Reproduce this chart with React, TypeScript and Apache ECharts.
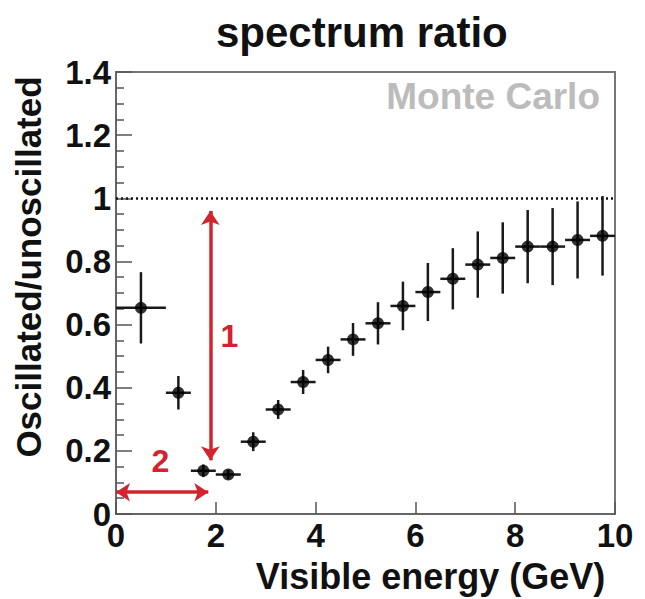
import React, { useEffect, useRef } from "react";
import * as echarts from "echarts";

// ---- data ----
const binCenters = [0.5, 1.25, 1.75, 2.25, 2.75, 3.25, 3.75, 4.25, 4.75, 5.25, 5.75, 6.25, 6.75, 7.25, 7.75, 8.25, 8.75, 9.25, 9.75];
const binHalfWidths = [0.5, 0.25, 0.25, 0.25, 0.25, 0.25, 0.25, 0.25, 0.25, 0.25, 0.25, 0.25, 0.25, 0.25, 0.25, 0.25, 0.25, 0.25, 0.25];
const ratio = [0.653, 0.384, 0.137, 0.125, 0.229, 0.331, 0.418, 0.488, 0.553, 0.604, 0.659, 0.703, 0.745, 0.79, 0.811, 0.847, 0.847, 0.868, 0.881];
const ratioErr = [0.113, 0.053, 0.02, 0.015, 0.03, 0.03, 0.038, 0.042, 0.052, 0.067, 0.077, 0.092, 0.097, 0.105, 0.113, 0.116, 0.122, 0.122, 0.126];

const referenceLevel = 1;
const arrow1 = { x: 1.89, yFrom: 0.96, yTo: 0.17, label: "1", labelX: 2.27, labelY: 0.565 };
const arrow2 = { y: 0.069, xFrom: 0, xTo: 1.85, label: "2", labelX: 0.89, labelY: 0.167 };

const xTicks = { min: 0, max: 10, interval: 2 };
const yTicks = { min: 0, max: 1.4, interval: 0.2 };

const TITLE = "spectrum ratio";
const X_NAME = "Visible energy (GeV)";
const Y_NAME = "Oscillated/unoscillated";
const TAG = "Monte Carlo";

const FONT = "'Liberation Sans', Arial, Helvetica, sans-serif";
const RED = "#d2232e";

export default function App() {
  const ref = useRef<HTMLDivElement>(null);

  useEffect(() => {
    if (!ref.current) return;
    const chart = echarts.init(ref.current, undefined, { renderer: "svg" });

    const points = binCenters.map((x, i) => [
      x,
      ratio[i],
      x - binHalfWidths[i],
      x + binHalfWidths[i],
      ratio[i] - ratioErr[i],
      ratio[i] + ratioErr[i],
    ]);

    const option: any = {
      animation: false,
      backgroundColor: "#ffffff",
      title: {
        text: TITLE,
        left: 211,
        top: 6,
        textStyle: { fontFamily: FONT, fontWeight: "bold", fontSize: 42, color: "#111" },
      },
      grid: {
        left: 116,
        right: 30,
        top: 72,
        bottom: 82,
        show: true,
        borderColor: "#777",
        borderWidth: 2,
        backgroundColor: "transparent",
      },
      xAxis: {
        type: "value",
        min: xTicks.min,
        max: xTicks.max,
        interval: xTicks.interval,
        name: X_NAME,
        nameLocation: "middle",
        nameGap: 44,
        nameTextStyle: {
          fontFamily: FONT,
          fontWeight: "bold",
          fontSize: 36,
          color: "#111",
          padding: [0, 0, 0, 130],
        },
        axisLine: { show: true, lineStyle: { color: "#666", width: 2 } },
        axisTick: { show: true, inside: true, length: 12, lineStyle: { color: "#555", width: 1.5 } },
        axisLabel: {
          fontFamily: FONT,
          fontWeight: "bold",
          fontSize: 33,
          color: "#111",
          margin: 5,
        },
        splitLine: { show: false },
      },
      yAxis: {
        type: "value",
        min: yTicks.min,
        max: yTicks.max,
        interval: yTicks.interval,
        name: Y_NAME,
        nameLocation: "middle",
        nameGap: 70,
        nameTextStyle: {
          fontFamily: FONT,
          fontWeight: "bold",
          fontSize: 35,
          color: "#111",
          padding: [0, 0, 0, 52],
        },
        axisLine: { show: true, lineStyle: { color: "#666", width: 2 } },
        axisTick: { show: true, inside: true, length: 16, lineStyle: { color: "#555", width: 1.5 } },
        minorTick: { show: true, splitNumber: 4, length: 8, lineStyle: { color: "#555", width: 1.5 } },
        axisLabel: {
          fontFamily: FONT,
          fontWeight: "bold",
          fontSize: 33,
          color: "#111",
          margin: 5,
          padding: [0, 0, 6, 0],
        },
        splitLine: { show: false },
        minorSplitLine: { show: false },
      },
      graphic: [
        {
          type: "text",
          right: 45,
          top: 78,
          style: {
            text: TAG,
            fontFamily: FONT,
            fontWeight: "bold",
            fontSize: 37,
            fill: "#bcbcbc",
          },
        },
      ],
      series: [
        {
          type: "custom",
          name: "errors",
          data: points,
          encode: { x: 0, y: 1 },
          z: 3,
          renderItem: (params: any, api: any) => {
            const xl = api.coord([api.value(2), api.value(1)]);
            const xr = api.coord([api.value(3), api.value(1)]);
            const yb = api.coord([api.value(0), api.value(4)]);
            const yt = api.coord([api.value(0), api.value(5)]);
            const st = { stroke: "#1a1a1a", lineWidth: 2.5 };
            return {
              type: "group",
              children: [
                { type: "line", shape: { x1: xl[0], y1: xl[1], x2: xr[0], y2: xr[1] }, style: st },
                { type: "line", shape: { x1: yb[0], y1: yb[1], x2: yt[0], y2: yt[1] }, style: st },
              ],
            };
          },
          markLine: {
            silent: true,
            symbol: ["none", "none"],
            label: { show: false },
            lineStyle: { color: "#111", type: [2, 3], width: 2.5 },
            data: [{ yAxis: referenceLevel }],
          },
        },
        {
          type: "scatter",
          name: "ratio",
          data: binCenters.map((x, i) => [x, ratio[i]]),
          symbol: "circle",
          symbolSize: 12,
          itemStyle: { color: "#000" },
          z: 4,
        },
        {
          type: "scatter",
          name: "annotations",
          data: [
            { value: [arrow1.labelX, arrow1.labelY], label: { formatter: arrow1.label } },
            { value: [arrow2.labelX, arrow2.labelY], label: { formatter: arrow2.label } },
          ],
          symbolSize: 0,
          itemStyle: { color: RED, opacity: 1 },
          silent: true,
          label: {
            show: true,
            position: "inside",
            fontFamily: FONT,
            fontWeight: "bold",
            fontSize: 32,
            color: RED,
            opacity: 1,
            textBorderWidth: 0,
            textBorderColor: "transparent",
          },
          z: 5,
          markLine: {
            silent: true,
            symbolSize: [14, 14],
            label: { show: false },
            lineStyle: { color: RED, type: "solid", width: 3.5, opacity: 1 },
            data: [
              [
                { coord: [arrow1.x, arrow1.yFrom], symbol: "arrow" },
                { coord: [arrow1.x, arrow1.yTo], symbol: "arrow" },
              ],
              [
                { coord: [arrow2.xFrom, arrow2.y], symbol: "arrow" },
                { coord: [arrow2.xTo, arrow2.y], symbol: "arrow" },
              ],
            ],
          },
        },
      ],
    };

    chart.setOption(option);
    return () => chart.dispose();
  }, []);

  return (
    <div
      ref={ref}
      style={{ position: "absolute", left: 0, top: 0, width: 645, height: 599, background: "#fff" }}
    />
  );
}
